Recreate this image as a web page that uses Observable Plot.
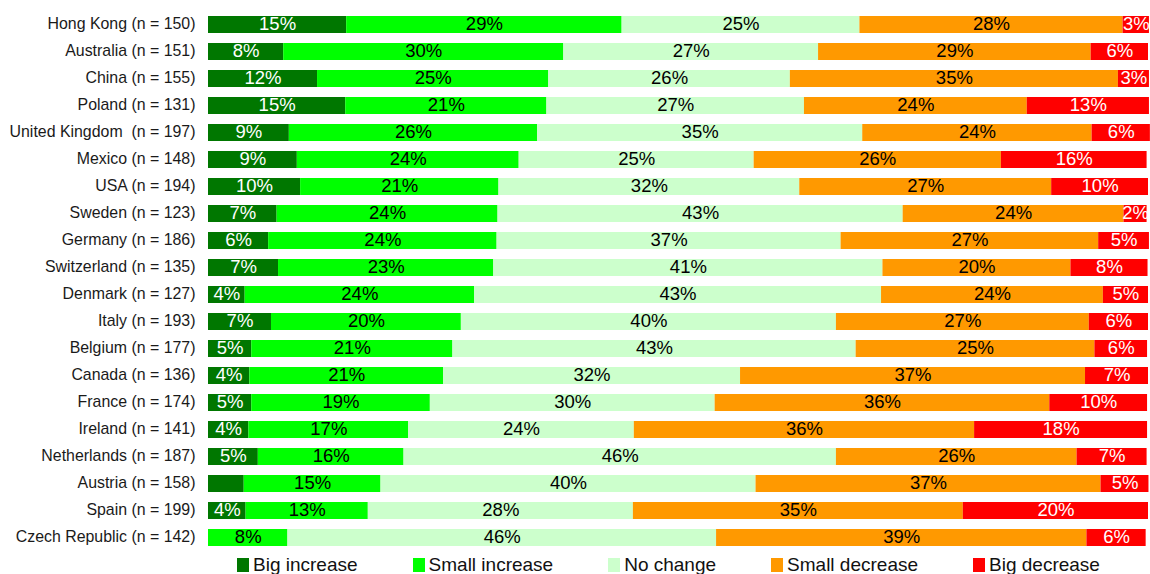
<!DOCTYPE html>
<html>
<head>
<meta charset="utf-8">
<script src="https://cdn.jsdelivr.net/npm/d3@7"></script>
<script src="https://cdn.jsdelivr.net/npm/@observablehq/plot@0.6"></script>
<style>
  html, body { margin: 0; padding: 0; background: #fff; }
  body { width: 1150px; height: 574px; overflow: hidden; font-family: "Liberation Sans", Arial, sans-serif; }
  #legend { display: flex; gap: 55px; padding-left: 237px; margin-top: -1px; font-size: 19px; line-height: 18px; color: #111; }
  #legend .item { display: flex; align-items: center; }
  #legend .sw { width: 12px; height: 14px; margin-right: 4px; }
</style>
</head>
<body>
<div id="chart"></div>
<div id="legend"></div>
<script>
const countries = [
  "Hong Kong (n = 150)", "Australia (n = 151)", "China (n = 155)", "Poland (n = 131)",
  "United Kingdom  (n = 197)", "Mexico (n = 148)", "USA (n = 194)", "Sweden (n = 123)",
  "Germany (n = 186)", "Switzerland (n = 135)", "Denmark (n = 127)", "Italy (n = 193)",
  "Belgium (n = 177)", "Canada (n = 136)", "France (n = 174)", "Ireland (n = 141)",
  "Netherlands (n = 187)", "Austria (n = 158)", "Spain (n = 199)", "Czech Republic (n = 142)"
];
const categories = ["Big increase", "Small increase", "No change", "Small decrease", "Big decrease"];
const colors = ["#007700", "#00ff00", "#ccffcc", "#ff9900", "#ff0000"];
const labelColors = ["#ffffff", "#000000", "#000000", "#000000", "#ffffff"];

// percentage of respondents per country, in category order
const bigIncrease   = [14.7, 8.0, 11.6, 14.6, 8.6, 9.45, 9.8, 7.3, 6.4, 7.45, 3.9, 6.7, 4.6, 4.4, 4.6, 4.3, 5.3, 3.8, 4.0, 0];
const smallIncrease = [29.3, 29.8, 24.6, 21.4, 26.4, 23.6, 21.1, 23.5, 24.3, 22.9, 24.4, 20.2, 21.4, 20.6, 19.0, 17.0, 15.5, 14.55, 13.0, 8.45];
const noChange      = [25.3, 27.1, 25.7, 27.4, 34.6, 25.0, 32.0, 43.1, 36.6, 41.4, 43.3, 39.9, 42.9, 31.6, 30.3, 24.0, 46.0, 39.9, 28.2, 45.6];
const smallDecrease = [28.0, 29.0, 34.9, 23.7, 24.4, 26.3, 26.8, 23.5, 27.4, 20.0, 23.6, 26.9, 25.4, 36.7, 35.6, 36.2, 25.6, 36.7, 35.1, 39.4];
const bigDecrease   = [2.8, 6.1, 3.3, 13.0, 6.2, 15.5, 10.3, 2.45, 5.4, 8.2, 4.8, 6.3, 5.6, 6.7, 10.4, 18.4, 7.45, 5.1, 19.7, 6.3];
const series = [bigIncrease, smallIncrease, noChange, smallDecrease, bigDecrease];
// segments drawn without a printed label
const unlabeled = [["Austria (n = 158)", "Big increase"]];

const data = [];
countries.forEach((c, i) => {
  let acc = 0;
  categories.forEach((cat, j) => {
    const v = series[j][i];
    data.push({country: c, category: cat, value: v, x1: acc, x2: acc + v, ci: j});
    acc += v;
  });
});
const labeled = data.filter(d => d.value > 0.5 && !unlabeled.some(([c, k]) => c === d.country && k === d.category));
const fmt = d => Math.round(d.value) + "%";

const chart = Plot.plot({
  width: 1150,
  height: 557,
  marginLeft: 208,
  marginRight: 2,
  marginTop: 5,
  marginBottom: 0,
  style: {fontFamily: "'Liberation Sans', Arial, sans-serif", fontSize: "15.9px", color: "#1a1a1a", background: "#fff"},
  x: {domain: [0, 100], axis: null},
  y: {domain: countries, padding: 0.37, label: null},
  color: {domain: categories, range: colors},
  marks: [
    Plot.axisY({tickSize: 0, tickPadding: 13, fontSize: 15.9, dy: -1, label: null}),
    Plot.barX(data, {y: "country", x1: "x1", x2: "x2", fill: "category"}),
    Plot.text(labeled.filter(d => labelColors[d.ci] === "#ffffff"), {
      y: "country", x: d => (d.x1 + d.x2) / 2, text: fmt, fill: "#ffffff", fontSize: 18.5, dy: -1
    }),
    Plot.text(labeled.filter(d => labelColors[d.ci] !== "#ffffff"), {
      y: "country", x: d => (d.x1 + d.x2) / 2, text: fmt, fill: "#000000", fontSize: 18.5, dy: -1
    })
  ]
});
document.getElementById("chart").appendChild(chart);

const legend = document.getElementById("legend");
categories.forEach((cat, j) => {
  const item = document.createElement("div");
  item.className = "item";
  const sw = document.createElement("span");
  sw.className = "sw";
  sw.style.background = colors[j];
  const t = document.createElement("span");
  t.textContent = cat;
  item.appendChild(sw);
  item.appendChild(t);
  legend.appendChild(item);
});
</script>
</body>
</html>
